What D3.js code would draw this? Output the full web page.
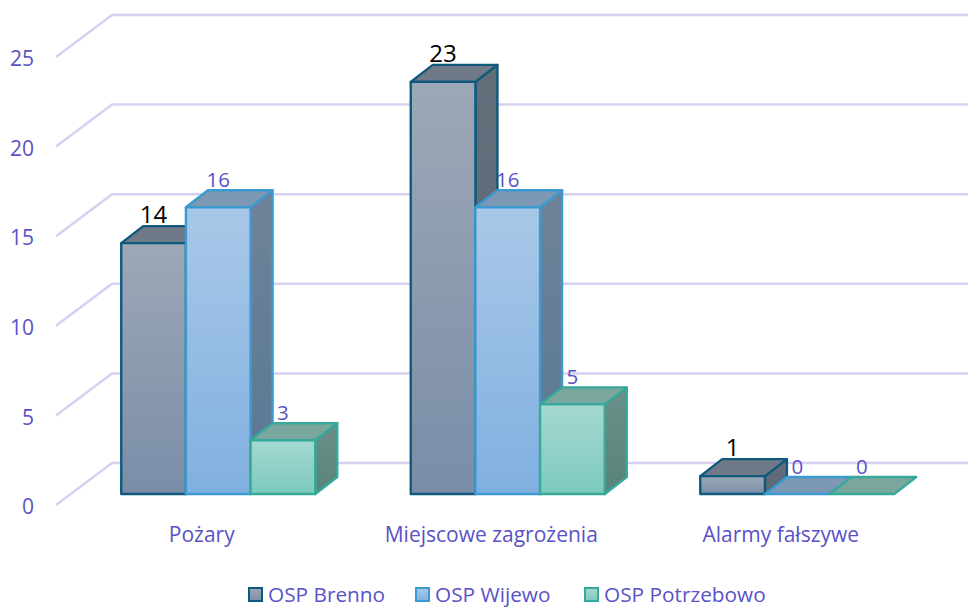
<!DOCTYPE html>
<html>
  <head>
    <meta charset="utf-8">
    <title>OSP</title>
    <script src="https://d3js.org/d3.v7.min.js"></script>
    <style>
      html, body { margin: 0; background: #fff; }
      svg { display: block; }
      text { font-family: "Open Sans", "Noto Sans", sans-serif; fill: #5a52c6; }
      .axis text { font-size: 21px; }
      .legend text { font-size: 20.8px; }
      .grid { fill: none; stroke: #d6d1f0; stroke-width: 2.5; }
    </style>
  </head>
  <body>
    <svg id="chart" width="968" height="608"></svg>
    <script>
      const categories = ["Pożary", "Miejscowe zagrożenia", "Alarmy fałszywe"];
      const seriesNames = ["OSP Brenno", "OSP Wijewo", "OSP Potrzebowo"];
      const brenno = [14, 23, 1];
      const wijewo = [16, 16, 0];
      const potrzebowo = [3, 5, 0];
      const seriesValues = [brenno, wijewo, potrzebowo];
      const yTicks = [0, 5, 10, 15, 20, 25];

      // one style per series: front gradient, top, side, outline, label colour
      const styles = [
        {top: "#6f7987", sideA: "#646e7b", sideB: "#5a6675", stroke: "#0e5a7d", a: "#9ca8b6", b: "#7a8da8", label: "#000", labelSize: 24},
        {top: "#7d98b3", sideA: "#6e8398", sideB: "#587894", stroke: "#3c9ad2", a: "#a9c8e8", b: "#80b0e0", label: "#5a52c6", labelSize: 20.5},
        {top: "#7ba69e", sideA: "#6a8f89", sideB: "#588379", stroke: "#37a99a", a: "#a5d9d1", b: "#7cc9bd", label: "#5a52c6", labelSize: 20.5}
      ];

      const svg = d3.select("#chart");
      const defs = svg.append("defs");

      // floor/wall geometry of the fake 3d box
      const wall = {dx: 56, dy: -42};
      const barDepth = {dx: 22, dy: -17};
      const barShift = {dx: 17.5, dy: -11};

      const y = d3.scaleLinear().domain([0, 25]).range([505, 57]);
      const x0 = d3.scaleBand().domain(categories).range([56, 924.5]).paddingInner(0).paddingOuter(0);
      const x1 = d3.scaleBand().domain(seriesNames).range([0, 194]);
      const groupOffset = (x0.bandwidth() - x1.range()[1]) / 2 + barShift.dx;

      // gridlines
      svg.append("g").selectAll("path")
        .data(yTicks)
        .join("path")
          .attr("class", "grid")
          .attr("d", d => d3.line()([
            [56, y(d)],
            [56 + wall.dx, y(d) + wall.dy],
            [968, y(d) + wall.dy]
          ]));

      // axes
      const yAxis = svg.append("g")
        .attr("class", "axis")
        .attr("transform", "translate(34, 1)")
        .call(d3.axisLeft(y).tickValues(yTicks).tickSize(0).tickPadding(0));
      yAxis.select(".domain").remove();
      yAxis.selectAll("text").attr("dy", "0.37em");

      const xAxis = svg.append("g")
        .attr("class", "axis")
        .attr("transform", "translate(1, 527)")
        .call(d3.axisBottom(x0).tickSize(0).tickPadding(0));
      xAxis.select(".domain").remove();
      xAxis.selectAll("text").attr("dy", "0.71em");

      // gradients
      styles.forEach(function(s, i) {
        [["front" + i, s.a, s.b], ["side" + i, s.sideA, s.sideB]].forEach(function(g) {
          const grad = defs.append("linearGradient")
            .attr("id", g[0]).attr("x1", "0%").attr("x2", "0%").attr("y1", "0%").attr("y2", "100%");
          grad.append("stop").attr("offset", "0%").attr("stop-color", g[1]);
          grad.append("stop").attr("offset", "100%").attr("stop-color", g[2]);
        });
      });

      // bars
      const line = d3.line();
      categories.forEach(function(cat, c) {
        seriesNames.forEach(function(name, i) {
          const value = seriesValues[i][c];
          const s = styles[i];
          const left = x0(cat) + groupOffset + x1(name);
          const right = left + x1.bandwidth();
          const top = y(value) + barShift.dy;
          const bottom = y(0) + barShift.dy;
          const d = barDepth;
          const g = svg.append("g")
            .attr("stroke", s.stroke)
            .attr("stroke-width", 2.4)
            .attr("stroke-linejoin", "round");
          if (value > 0) {
            g.append("path")
              .attr("fill", "url(#side" + i + ")")
              .attr("d", line([[right, top], [right + d.dx, top + d.dy], [right + d.dx, bottom + d.dy], [right, bottom]]) + "Z");
          }
          g.append("path")
            .attr("fill", s.top)
            .attr("d", line([[left, top], [left + d.dx, top + d.dy], [right + d.dx, top + d.dy], [right, top]]) + "Z");
          if (value > 0) {
            g.append("rect")
              .attr("fill", "url(#front" + i + ")")
              .attr("x", left)
              .attr("y", top)
              .attr("width", right - left)
              .attr("height", bottom - top);
          }
        });
      });

      // labels go on top of every bar
      categories.forEach(function(cat, c) {
        seriesNames.forEach(function(name, i) {
          const value = seriesValues[i][c];
          svg.append("text")
            .attr("x", x0(cat) + groupOffset + x1(name) + x1.bandwidth() / 2)
            .attr("y", y(value) + barShift.dy - 20)
            .attr("text-anchor", "middle")
            .style("fill", styles[i].label)
            .style("font-size", styles[i].labelSize + "px")
            .text(value);
        });
      });

      // legend
      const legendX = [248, 415, 584];
      const legend = svg.append("g").attr("class", "legend");
      seriesNames.forEach(function(name, i) {
        legend.append("rect")
          .attr("x", legendX[i] + 1).attr("y", 588)
          .attr("width", 13).attr("height", 13)
          .attr("fill", "url(#front" + i + ")")
          .attr("stroke", styles[i].stroke)
          .attr("stroke-width", 2);
        legend.append("text")
          .attr("x", legendX[i] + 20).attr("y", 602)
          .text(name);
      });
    </script>
  </body>
</html>
